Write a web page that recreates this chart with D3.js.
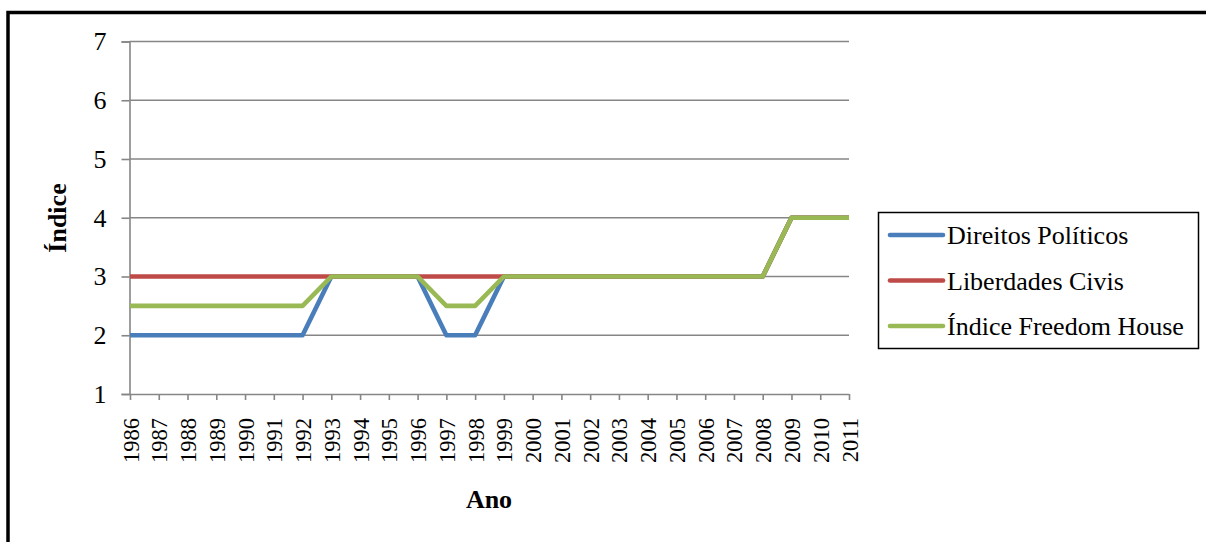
<!DOCTYPE html>
<html>
<head>
<meta charset="utf-8">
<script src="https://cdn.jsdelivr.net/npm/d3@7"></script>
<style>
  html, body { margin: 0; padding: 0; background: #fff; }
  svg { display: block; }
</style>
</head>
<body>
<svg id="chart" width="1206" height="542"></svg>
<script>
// Freedom House ratings by year
const years = [1986, 1987, 1988, 1989, 1990, 1991, 1992, 1993, 1994, 1995, 1996, 1997, 1998,
               1999, 2000, 2001, 2002, 2003, 2004, 2005, 2006, 2007, 2008, 2009, 2010, 2011];
const direitosPoliticos = [2, 2, 2, 2, 2, 2, 2, 3, 3, 3, 3, 2, 2, 3, 3, 3, 3, 3, 3, 3, 3, 3, 3, 4, 4, 4];
const liberdadesCivis   = [3, 3, 3, 3, 3, 3, 3, 3, 3, 3, 3, 3, 3, 3, 3, 3, 3, 3, 3, 3, 3, 3, 3, 4, 4, 4];
const indiceFreedom     = [2.5, 2.5, 2.5, 2.5, 2.5, 2.5, 2.5, 3, 3, 3, 3, 2.5, 2.5, 3, 3, 3, 3, 3, 3, 3, 3, 3, 3, 4, 4, 4];
const seriesNames = ["Direitos Políticos", "Liberdades Civis", "Índice Freedom House"];
const seriesColors = ["#4a7ebb", "#be4b48", "#98b954"];
const yTicks = [1, 2, 3, 4, 5, 6, 7];

const series = [direitosPoliticos, liberdadesCivis, indiceFreedom];
const FONT = "'Liberation Serif', 'Times New Roman', serif";

const svg = d3.select("#chart").attr("font-family", FONT);

// outer frame
svg.append("rect")
  .attr("x", 8).attr("y", 12.5)
  .attr("width", 1240).attr("height", 600)
  .attr("fill", "none").attr("stroke", "#000").attr("stroke-width", 3.5);

const plot = { left: 129.5, right: 849, top: 41.5, bottom: 394 };

const x = d3.scalePoint().domain(years).range([plot.left + 0.5, plot.right]);
const y = d3.scaleLinear().domain([1, 7]).range([plot.bottom, plot.top]);

const grid = "#868686";

// horizontal gridlines
svg.append("g").selectAll("line")
  .data(yTicks.filter(d => d > 1))
  .join("line")
  .attr("x1", plot.left).attr("x2", plot.right)
  .attr("y1", d => y(d)).attr("y2", d => y(d))
  .attr("stroke", grid).attr("stroke-width", 1.6);

// y axis
const yAxis = svg.append("g")
  .attr("transform", `translate(${plot.left},0)`)
  .call(d3.axisLeft(y).tickValues(yTicks).tickFormat(d3.format("d")).tickSize(8).tickPadding(15));
yAxis.attr("font-family", FONT);
yAxis.select(".domain").attr("stroke", grid).attr("stroke-width", 1.6);
yAxis.selectAll(".tick line").attr("stroke", grid).attr("stroke-width", 1.6);
yAxis.selectAll(".tick text")
  .attr("font-family", FONT)
  .attr("font-size", 26).attr("fill", "#000");

// x axis
const xAxis = svg.append("g")
  .attr("transform", `translate(0,${plot.bottom})`)
  .call(d3.axisBottom(x).tickSize(6).tickPadding(0));
xAxis.attr("font-family", FONT);
xAxis.select(".domain").attr("stroke", grid).attr("stroke-width", 1.6)
  .attr("d", `M${plot.left},0.5H${plot.right}`);
xAxis.selectAll(".tick line").attr("stroke", grid).attr("stroke-width", 1.6);
xAxis.selectAll(".tick text")
  .attr("font-family", FONT)
  .attr("font-size", 22.5).attr("fill", "#000")
  .attr("text-anchor", "end")
  .attr("dy", null)
  .attr("transform", "translate(8,24) rotate(-90)")
  .attr("x", 0).attr("y", 0);

// series lines
const line = d3.line().x((d, i) => x(years[i])).y(d => y(d));
svg.append("g").selectAll("path")
  .data(series)
  .join("path")
  .attr("d", d => line(d))
  .attr("fill", "none")
  .attr("stroke", (d, i) => seriesColors[i])
  .attr("stroke-width", 4.6)
  .attr("stroke-linejoin", "round");

// axis titles
svg.append("text")
  .attr("transform", "translate(66,218) rotate(-90)")
  .attr("text-anchor", "middle")
  .attr("font-family", FONT)
  .attr("font-size", 26).attr("font-weight", "bold")
  .text("Índice");

svg.append("text")
  .attr("x", 489).attr("y", 508)
  .attr("text-anchor", "middle")
  .attr("font-family", FONT)
  .attr("font-size", 26).attr("font-weight", "bold")
  .text("Ano");

// legend
const legend = svg.append("g");
legend.append("rect")
  .attr("x", 878.5).attr("y", 212.5)
  .attr("width", 320).attr("height", 136)
  .attr("fill", "#fff").attr("stroke", "#000").attr("stroke-width", 1.5);

const items = legend.selectAll("g.item")
  .data(seriesNames)
  .join("g")
  .attr("class", "item")
  .attr("transform", (d, i) => `translate(0,${235 + i * 45.5})`);
items.append("line")
  .attr("x1", 890).attr("x2", 943)
  .attr("y1", 0).attr("y2", 0)
  .attr("stroke", (d, i) => seriesColors[i])
  .attr("stroke-width", 4.6)
  .attr("stroke-linecap", "round");
items.append("text")
  .attr("x", 947).attr("y", 9)
  .attr("font-family", FONT)
  .attr("font-size", 26)
  .attr("fill", "#000")
  .text(d => d);
</script>
</body>
</html>
